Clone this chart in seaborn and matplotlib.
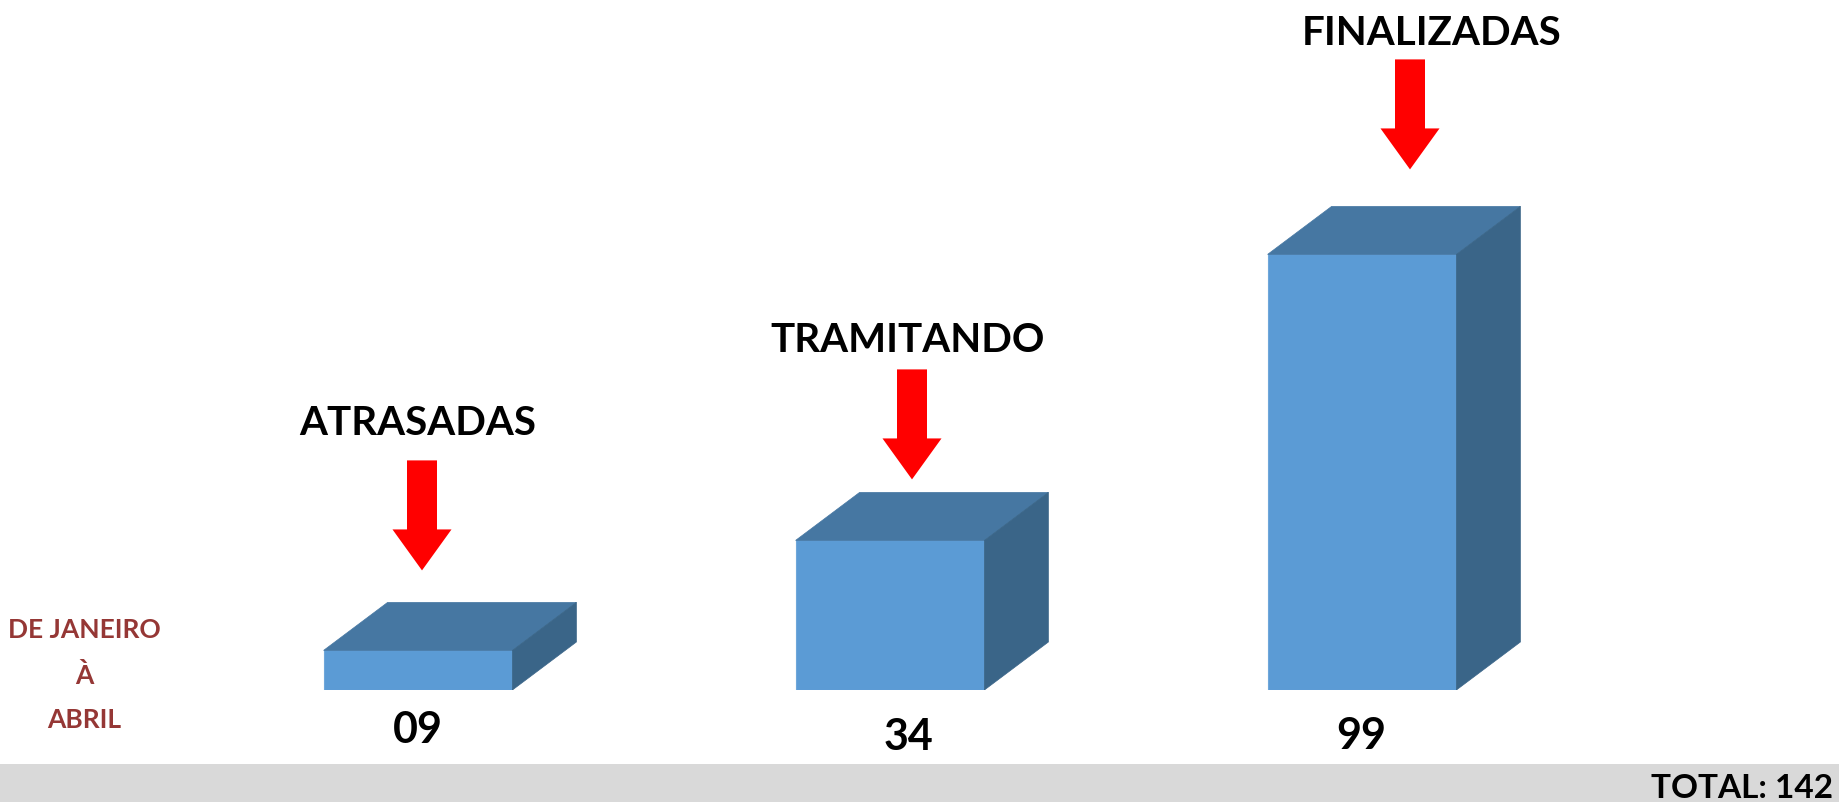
import matplotlib
matplotlib.use('Agg')
import matplotlib.pyplot as plt
import seaborn as sns
import pandas as pd
from matplotlib.patches import Polygon, Rectangle

# ---- data ----
categories = ['ATRASADAS', 'TRAMITANDO', 'FINALIZADAS']
values = [9, 34, 99]
value_labels = ['09', '34', '99']
period_lines = ['DE JANEIRO', 'À', 'ABRIL']
total_label = 'TOTAL: 142'

# ---- layout (pixels) ----
W, H, DPI = 1840, 803, 100
base_px = 691
depth_dx, depth_dy = 64, 48
arrow_dx = [4, 22, 48]
arrow_gap = [32, 13, 37]
arrow_len = 110
label_dx = [0, 18, 70]
label_gap = [26, 18, 15]
value_dx = [0, 18, -1]
value_drop = [52, 59, 58]

FRONT = '#5B9BD5'
TOP = '#4677A2'
SIDE = '#3A6588'

sns.set_theme(style='white')
plt.rcParams['font.family'] = ['Lato', 'DejaVu Sans']

fig = plt.figure(figsize=(W / DPI, H / DPI), dpi=DPI)
fig.patch.set_facecolor('white')
fig.add_artist(Rectangle((0, 0), 1, (H - 765) / H, transform=fig.transFigure,
                         facecolor='#D9D9D9', edgecolor='none', zorder=0))

ax = fig.add_axes([182 / W, (H - base_px) / H, 1416 / W, 528 / H])
df = pd.DataFrame({'cat': categories, 'val': values})
sns.barplot(data=df, x='cat', y='val', color=FRONT, saturation=1, width=0.4,
            ax=ax, edgecolor='#6FA7DA', linewidth=0.8, zorder=3)
ax.set_xlim(-0.5, 2.5)
ax.set_ylim(0, 120)
ax.axis('off')

to_disp = ax.transData.transform
inv = ax.transData.inverted().transform

for i, p in enumerate(ax.patches):
    x0 = p.get_x()
    x1 = x0 + p.get_width()
    h = p.get_height()
    X0, Yb = to_disp((x0, 0))
    X1, Yt = to_disp((x1, h))
    top = [(X0, Yt), (X1, Yt), (X1 + depth_dx, Yt + depth_dy), (X0 + depth_dx, Yt + depth_dy)]
    side = [(X1, Yb), (X1 + depth_dx, Yb + depth_dy), (X1 + depth_dx, Yt + depth_dy), (X1, Yt)]
    ax.add_patch(Polygon(inv(top), closed=True, facecolor=TOP, edgecolor=TOP,
                         linewidth=0.5, zorder=4))
    ax.add_patch(Polygon(inv(side), closed=True, facecolor=SIDE, edgecolor=SIDE,
                         linewidth=0.5, zorder=4))
    Xc = (X0 + X1) / 2
    # arrow
    tipY = Yt + depth_dy + arrow_gap[i]
    tailY = tipY + arrow_len
    Xa = Xc + arrow_dx[i]
    ax.annotate('', xy=(Xa, tipY), xycoords='figure pixels',
                xytext=(Xa, tailY), textcoords='figure pixels',
                arrowprops=dict(arrowstyle='simple,head_length=29.5,head_width=42.5,tail_width=21.6',
                                mutation_scale=1, facecolor='#FF0000', edgecolor='none',
                                linewidth=0, shrinkA=0, shrinkB=0))
    # category label
    fig.text((Xc + label_dx[i]) / W, (tailY + label_gap[i]) / H, categories[i],
             ha='center', va='baseline', fontsize=29, fontweight='bold', color='black')
    # value label
    fig.text((Xc + value_dx[i]) / W, (H - base_px - value_drop[i]) / H, value_labels[i],
             ha='center', va='baseline', fontsize=31, fontweight='bold', color='black')

period_baselines = [638, 684, 728]
for txt, yb in zip(period_lines, period_baselines):
    fig.text(84 / W, (H - yb) / H, txt, ha='center', va='baseline', fontsize=19,
             fontweight='bold', color='#953735')

fig.text(1833 / W, (H - 798) / H, total_label, ha='right', va='baseline',
         fontsize=24, fontweight='bold', color='black')

fig.savefig('out.png', dpi=DPI, facecolor='white')
